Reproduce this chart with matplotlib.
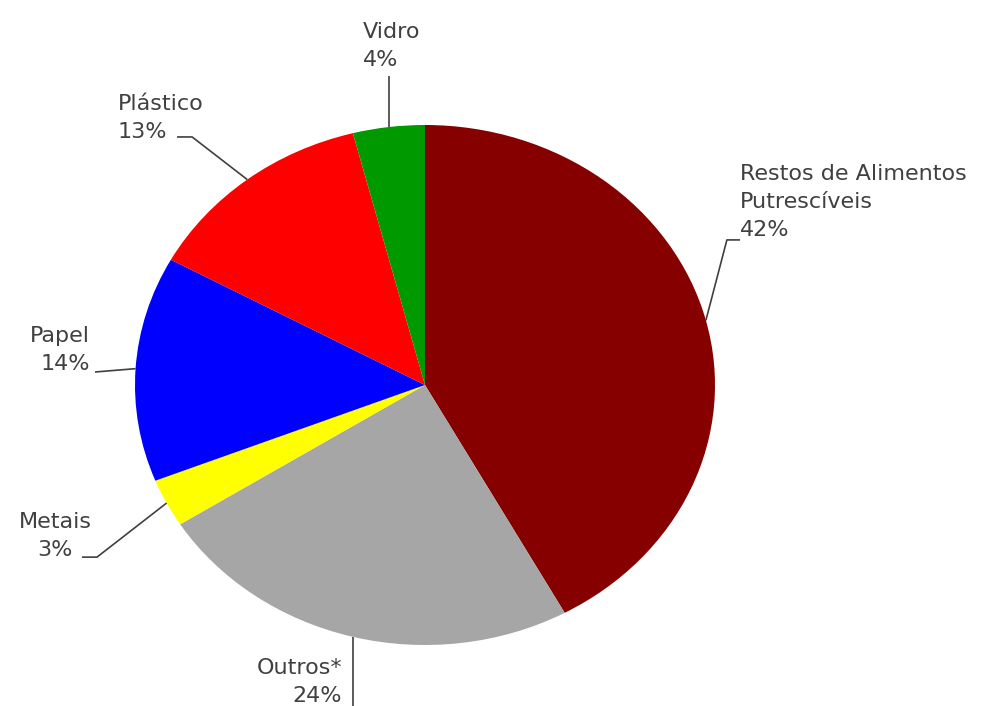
import matplotlib.pyplot as plt
import numpy as np

# waste composition (%), clockwise from 12 o'clock
categories = ['Restos de Alimentos\nPutrescíveis', 'Outros*', 'Metais', 'Papel', 'Plástico', 'Vidro']
shares = [42, 24, 3, 14, 13, 4]
colors = ['#870000', '#a6a6a6', '#ffff00', '#0000ff', '#ff0000', '#009a00']

# label layout in data units: text anchor, alignment, leader elbow points
label_pos = [(1.086, 0.705), (-0.286, -1.142), (-1.276, -0.581), (-1.155, 0.135), (-1.059, 1.027), (-0.214, 1.304)]
label_ha = ['left', 'right', 'center', 'right', 'left', 'left']
leader_pts = [
    [(1.041, 0.558), (1.086, 0.558)],
    [None, None],
    [(-1.131, -0.662), (-1.183, -0.662)],
    [(-1.138, 0.05), (-1.138, 0.05)],
    [(-0.803, 0.954), (-0.855, 0.954)],
    [None, None],
]
leader_end_y = {1: -1.24, 5: 1.19}

TXT = '#404040'

fig = plt.figure(figsize=(10.03, 7.06), dpi=100)
ax = fig.add_axes([135 / 1003, 61 / 706, 580 / 1003, 520 / 706])

wedges, _ = ax.pie(shares, colors=colors, startangle=90, counterclock=False,
                   wedgeprops=dict(linewidth=0))
ax.set_aspect('auto')
ax.set_xlim(-1, 1)
ax.set_ylim(-1, 1)

for i, w in enumerate(wedges):
    mid = np.deg2rad((w.theta1 + w.theta2) / 2)
    ex, ey = np.cos(mid), np.sin(mid)
    if i in leader_end_y:
        xs, ys = [ex, ex], [ey, leader_end_y[i]]
    else:
        (x1, y1), (x2, y2) = leader_pts[i]
        xs, ys = [ex, x1, x2], [ey, y1, y2]
    ax.plot(xs, ys, color=TXT, lw=1.2, clip_on=False, solid_capstyle='butt')

    tx, ty = label_pos[i]
    ax.text(tx, ty, f'{categories[i]}\n{shares[i]}%', ha=label_ha[i], va='center',
            fontsize=16, color=TXT, linespacing=1.5, multialignment=label_ha[i])

fig.savefig('out.png', dpi=100)
